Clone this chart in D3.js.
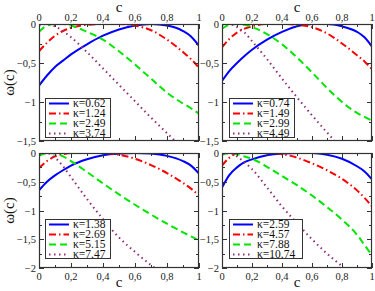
<!DOCTYPE html>
<html><head><meta charset="utf-8">
<script src="https://cdn.jsdelivr.net/npm/d3@7"></script>
<style>body{margin:0;background:#fff}</style></head>
<body><svg id="chart" width="375" height="291"></svg>
<script>
// ---- data ----
const cValues = [0,0.05,0.1,0.15,0.2,0.3,0.4,0.5,0.6,0.7,0.8,0.9,0.95,1];
const xTicks = [0,0.2,0.4,0.6,0.8,1];
const yTicksTop = [0,-0.5,-1,-1.5];
const yTicksBottom = [0,-0.5,-1,-1.5,-2];

const kappaTL = ["0.62","1.24","2.49","3.74"];
const kappaTR = ["0.74","1.49","2.99","4.49"];
const kappaBL = ["1.38","2.69","5.15","7.47"];
const kappaBR = ["2.59","4.57","7.88","10.74"];

const omegaTL1 = [-0.79,-0.66,-0.55,-0.47,-0.39,-0.26,-0.15,-0.07,-0.02,0,-0.02,-0.09,-0.16,-0.28];
const omegaTL2 = [-0.35,-0.24,-0.15,-0.09,-0.05,-0.01,0,0,-0.02,-0.08,-0.2,-0.36,-0.45,-0.56];
const omegaTL3 = [-0.1,-0.02,0,0,-0.02,-0.1,-0.2,-0.35,-0.52,-0.7,-0.88,-1.02,-1.08,-1.15];
const omegaTL4 = [-0.02,0,-0.03,-0.09,-0.17,-0.36,-0.57,-0.78,-0.99,-1.2,-1.4,-1.6,-1.7,-1.8];

const omegaTR1 = [-0.73,-0.6,-0.5,-0.41,-0.33,-0.2,-0.1,-0.03,0,0,-0.03,-0.1,-0.17,-0.29];
const omegaTR2 = [-0.3,-0.19,-0.11,-0.06,-0.03,0,0,-0.01,-0.04,-0.12,-0.25,-0.4,-0.48,-0.58];
const omegaTR3 = [-0.06,-0.01,0,-0.01,-0.04,-0.13,-0.26,-0.43,-0.62,-0.82,-1.0,-1.14,-1.19,-1.24];
const omegaTR4 = [-0.01,0,-0.04,-0.11,-0.22,-0.45,-0.7,-0.94,-1.17,-1.39,-1.6,-1.8,-1.9,-2.0];

const omegaBL1 = [-0.65,-0.5,-0.39,-0.3,-0.22,-0.11,-0.04,-0.01,0,-0.01,-0.05,-0.14,-0.22,-0.36];
const omegaBL2 = [-0.26,-0.14,-0.06,-0.02,0,0,0,-0.03,-0.1,-0.21,-0.35,-0.52,-0.62,-0.74];
const omegaBL3 = [-0.05,0,-0.01,-0.06,-0.14,-0.33,-0.53,-0.72,-0.9,-1.07,-1.23,-1.38,-1.45,-1.52];
const omegaBL4 = [-0.03,0,-0.08,-0.23,-0.42,-0.8,-1.15,-1.47,-1.72,-1.95,-2.15,-2.35,-2.45,-2.55];

const omegaBR1 = [-0.6,-0.38,-0.25,-0.16,-0.11,-0.04,-0.01,0,0,-0.03,-0.1,-0.23,-0.32,-0.46];
const omegaBR2 = [-0.22,-0.08,-0.01,0,0,0,-0.02,-0.08,-0.18,-0.3,-0.45,-0.65,-0.78,-0.93];
const omegaBR3 = [-0.03,0,-0.02,-0.06,-0.1,-0.24,-0.4,-0.56,-0.74,-0.94,-1.16,-1.42,-1.6,-1.78];
const omegaBR4 = [-0.02,0,-0.06,-0.16,-0.28,-0.6,-0.93,-1.22,-1.5,-1.75,-1.97,-2.2,-2.3,-2.4];

// ---- styles ----
const colors = ["#0000ff","#ff0000","#00e600","#8e2f78"];
const dashes = [null,"7,3,1.5,3","7,4","1.5,3.5"];
const fontFam = "'Liberation Serif','DejaVu Serif',serif";

const panels = [
  {x0:39,x1:199,y0:24,y1:141,ymin:-1.5,yTicks:yTicksTop,kappa:kappaTL,series:[omegaTL1,omegaTL2,omegaTL3,omegaTL4],xlab:"top",ytitle:true,legend:[45,98]},
  {x0:222,x1:372,y0:24,y1:141,ymin:-1.5,yTicks:yTicksTop,kappa:kappaTR,series:[omegaTR1,omegaTR2,omegaTR3,omegaTR4],xlab:"top",ytitle:false,legend:[229,98]},
  {x0:39,x1:199,y0:153,y1:268,ymin:-2,yTicks:yTicksBottom,kappa:kappaBL,series:[omegaBL1,omegaBL2,omegaBL3,omegaBL4],xlab:"bottom",ytitle:true,legend:[45,219]},
  {x0:222,x1:372,y0:153,y1:268,ymin:-2,yTicks:yTicksBottom,kappa:kappaBR,series:[omegaBR1,omegaBR2,omegaBR3,omegaBR4],xlab:"bottom",ytitle:false,legend:[229,219]}
];

const svg = d3.select("#chart");
const fmt = v => (v===0?"0":d3.format("~g")(v)).replace(".",",");

panels.forEach((p,i)=>{
  const x = d3.scaleLinear().domain([0,1]).range([p.x0,p.x1]);
  const y = d3.scaleLinear().domain([p.ymin,0]).range([p.y1,p.y0]);
  const g = svg.append("g");
  const clipId = "clip"+i;
  svg.append("defs").append("clipPath").attr("id",clipId)
    .append("rect").attr("x",p.x0).attr("y",p.y0).attr("width",p.x1-p.x0).attr("height",p.y1-p.y0);

  // curves
  const line = d3.line().x((d,j)=>x(cValues[j])).y(d=>y(d)).curve(d3.curveMonotoneX);
  const cg = g.append("g").attr("clip-path",`url(#${clipId})`);
  p.series.forEach((s,k)=>{
    cg.append("path").attr("d",line(s)).attr("fill","none")
      .attr("stroke",colors[k]).attr("stroke-width",2)
      .attr("stroke-dasharray",dashes[k]);
  });

  // ticks on all sides (inward)
  const xMinor = d3.range(0,1.0001,0.1);
  const yMinor = d3.range(0,p.ymin-0.0001,-0.25);
  const tk = g.append("g").attr("stroke","#333").attr("stroke-width",1);
  xMinor.forEach((v,j)=>{
    const len = (j%2===0)?5:3;
    const xx = Math.round(x(v))+0.5;
    tk.append("line").attr("x1",xx).attr("x2",xx).attr("y1",p.y1).attr("y2",p.y1-len);
    tk.append("line").attr("x1",xx).attr("x2",xx).attr("y1",p.y0).attr("y2",p.y0+len);
  });
  yMinor.forEach((v,j)=>{
    const len = (j%2===0)?5:3;
    const yy = Math.round(y(v))+0.5;
    tk.append("line").attr("x1",p.x0).attr("x2",p.x0+len).attr("y1",yy).attr("y2",yy);
    tk.append("line").attr("x1",p.x1).attr("x2",p.x1-len).attr("y1",yy).attr("y2",yy);
  });
  g.append("rect").attr("x",p.x0+0.5).attr("y",p.y0+0.5).attr("width",p.x1-p.x0-1).attr("height",p.y1-p.y0-1)
    .attr("fill","none").attr("stroke","#333").attr("stroke-width",1.2);

  // x tick labels
  const lx = g.append("g").attr("font-family",fontFam).attr("font-size",10.5).attr("fill","#222").attr("text-anchor","middle");
  xTicks.forEach(v=>{
    lx.append("text").attr("x",x(v)).attr("y",p.xlab==="top"?p.y0-3:p.y1+12).text(fmt(v));
  });
  g.append("text").attr("x",(p.x0+p.x1)/2).attr("y",p.xlab==="top"?p.y0-12:p.y1+19)
    .attr("text-anchor","middle").attr("font-family",fontFam).attr("font-size",15).attr("fill","#111").text("c");

  // y tick labels
  const ly = g.append("g").attr("font-family",fontFam).attr("font-size",10.5).attr("fill","#222").attr("text-anchor","end");
  p.yTicks.forEach(v=>{
    ly.append("text").attr("x",p.x0-3).attr("y",y(v)+4).text(fmt(v));
  });
  if(p.ytitle){
    g.append("text").attr("transform",`translate(14,${(p.y0+p.y1)/2}) rotate(-90)`)
      .attr("text-anchor","middle").attr("font-family",fontFam).attr("font-size",15).attr("fill","#111").text("ω(c)");
  }

  // legend
  const [lgx,lgy] = p.legend;
  const lw = p.kappa[3].length>4?73:65;
  const lg = g.append("g");
  lg.append("rect").attr("x",lgx+0.5).attr("y",lgy+0.5).attr("width",lw).attr("height",39)
    .attr("fill","#fff").attr("stroke","#333").attr("stroke-width",1);
  p.kappa.forEach((k,j)=>{
    const yy = lgy+5.5+j*10;
    lg.append("line").attr("x1",lgx+4).attr("x2",lgx+24).attr("y1",yy).attr("y2",yy)
      .attr("stroke",colors[j]).attr("stroke-width",2).attr("stroke-dasharray",dashes[j]);
    lg.append("text").attr("x",lgx+28).attr("y",yy+3.8).attr("font-family",fontFam).attr("font-size",11.5)
      .attr("fill","#111").text("κ="+k);
  });
});
</script></body></html>
